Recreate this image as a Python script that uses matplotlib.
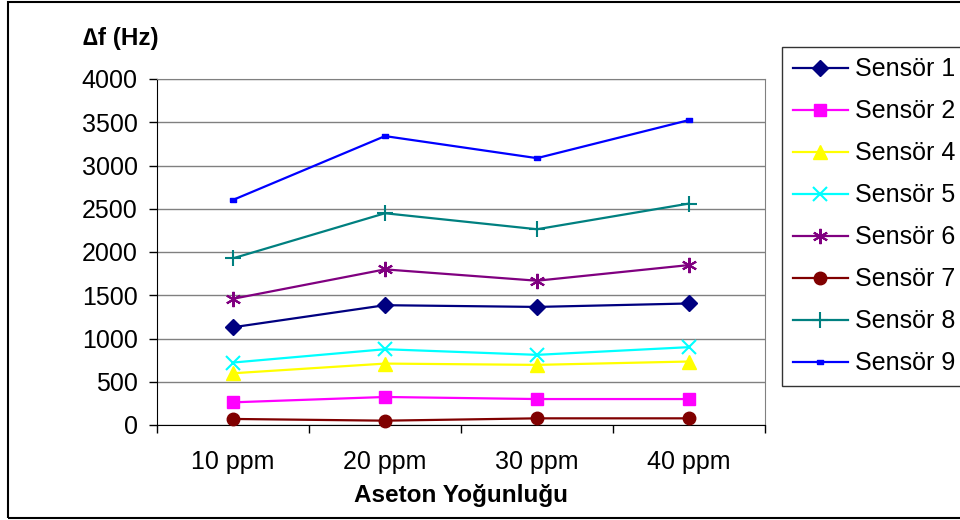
import matplotlib
matplotlib.use("Agg")
import matplotlib.pyplot as plt
from matplotlib.patches import Rectangle
from matplotlib.ticker import FixedLocator, NullFormatter

plt.rcParams['font.family'] = ['Liberation Sans', 'DejaVu Sans']

categories = ["10 ppm", "20 ppm", "30 ppm", "40 ppm"]
sensor_names = ["Sensör 1", "Sensör 2", "Sensör 4", "Sensör 5",
                "Sensör 6", "Sensör 7", "Sensör 8", "Sensör 9"]
sensor1 = [1130, 1385, 1365, 1405]
sensor2 = [262, 324, 300, 300]
sensor4 = [598, 710, 695, 734]
sensor5 = [722, 876, 811, 900]
sensor6 = [1459, 1799, 1668, 1849]
sensor7 = [70, 50, 77, 77]
sensor8 = [1927, 2448, 2263, 2560]
sensor9 = [2602, 3340, 3085, 3525]
y_ticks = [0, 500, 1000, 1500, 2000, 2500, 3000, 3500, 4000]

series = [sensor1, sensor2, sensor4, sensor5, sensor6, sensor7, sensor8, sensor9]
colors = ["#000080", "#FF00FF", "#FFFF00", "#00FFFF", "#800080", "#800000", "#008080", "#0000FF"]
dash_marker = [(-1, -0.45), (1, -0.45), (1, 0.45), (-1, 0.45), (-1, -0.45)]
markers = ["D", "s", "^", "x", (6, 2, 0), "o", "+", dash_marker]
msizes = [8.5, 9, 10, 10, 11, 9, 11, 5]
mews = [1, 1, 1, 1.5, 1.5, 1, 1.5, 1]

fig = plt.figure(figsize=(9.6, 5.2), dpi=100)
ax = fig.add_axes([157/960, 1-425/520, (765-157)/960, (425-79)/520])

x = list(range(len(categories)))
for vals, name, c, m, ms, mew in zip(series, sensor_names, colors, markers, msizes, mews):
    ax.plot(x, vals, color=c, lw=1.6, marker=m, markersize=ms,
            markerfacecolor=c, markeredgecolor=c, markeredgewidth=mew,
            label=name, clip_on=False, zorder=3)

ax.set_xlim(-0.5, len(categories) - 0.5)
ax.set_ylim(0, 4000)
ax.set_yticks(y_ticks)
ax.yaxis.grid(True, color="#808080", lw=1)
ax.set_axisbelow(True)

ax.xaxis.set_major_locator(FixedLocator([i - 0.5 for i in range(len(categories) + 1)]))
ax.xaxis.set_major_formatter(NullFormatter())
ax.xaxis.set_minor_locator(FixedLocator(x))
ax.set_xticks(x, minor=True)
ax.set_xticklabels(categories, minor=True)
ax.tick_params(axis='x', which='major', length=6, width=1, direction='out', color='black')
ax.tick_params(axis='x', which='minor', length=0, pad=18, labelsize=18)
ax.tick_params(axis='y', length=6, width=1, direction='out', pad=8, labelsize=18)

for s in ['top', 'right']:
    ax.spines[s].set_color("#808080")
for s in ['left', 'bottom']:
    ax.spines[s].set_color("black")

ax.set_xlabel("Aseton Yoğunluğu", fontsize=17.5, fontweight='bold', labelpad=7)
fig.text(83/960, 1-38/520, "∆f (Hz)", fontsize=17.5, fontweight='bold', ha='left', va='center')

leg = fig.legend(loc='upper left', bbox_to_anchor=(782/960, 1-47/520), borderaxespad=0,
                 fontsize=18, frameon=True, fancybox=False, edgecolor='black',
                 handlelength=2.2, handletextpad=0.3, labelspacing=0.72, borderpad=0.42)
leg.get_frame().set_linewidth(1)

fig.patches.append(Rectangle((8/960, 2/520), 1.0, 516/520, transform=fig.transFigure,
                             fill=False, edgecolor='black', lw=1.5, clip_on=False))

fig.savefig("out.png", dpi=100)
